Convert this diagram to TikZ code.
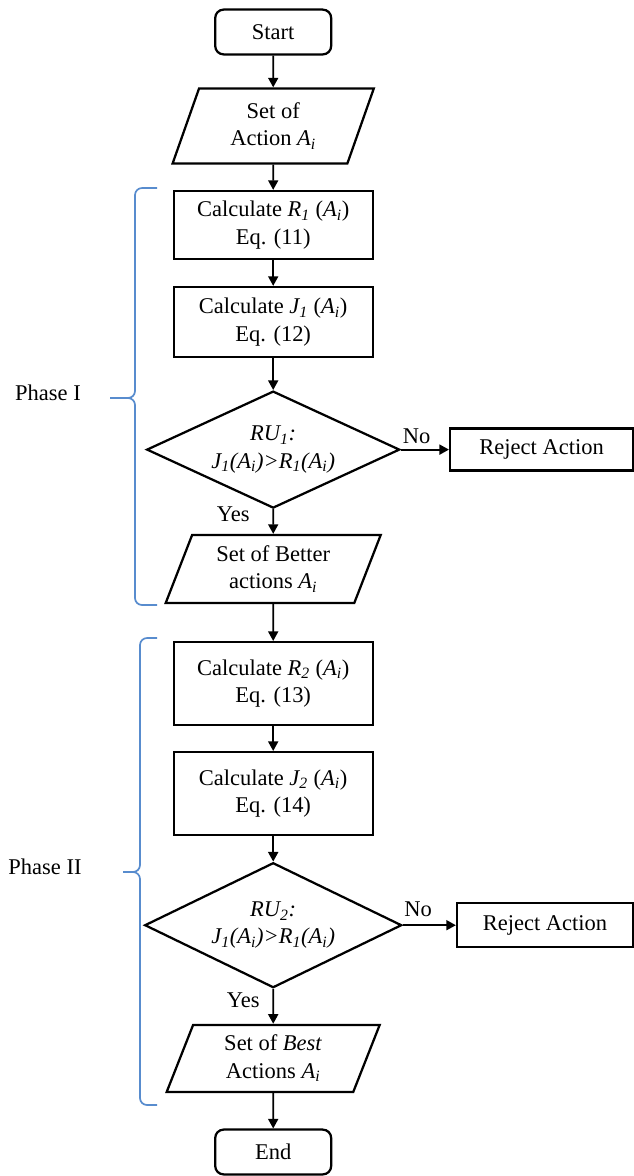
\documentclass[tikz,border=0pt]{standalone}
\usepackage{fontspec}
\setmainfont{Liberation Serif}
\usetikzlibrary{shapes.geometric,arrows.meta,positioning}

\definecolor{phaseblue}{RGB}{88,140,206}
\newcommand{\ital}[2]{\textit{#1\textsubscript{#2}}}

\begin{document}
\begin{tikzpicture}[
    font=\fontsize{16}{19.5}\selectfont,
    box/.style={draw, line width=1.6pt, minimum width=4.975cm, align=center},
    io/.style={trapezium, trapezium left angle=62, trapezium right angle=118,
        trapezium stretches body, draw, line width=1.6pt, align=center, inner sep=1pt},
    decision/.style={diamond, draw, line width=1.6pt, aspect=2.16, inner sep=0pt, align=center},
    terminal/.style={draw, rounded corners=6pt, line width=1.6pt, minimum width=2.9cm, minimum height=1.12cm},
    arrow/.style={line width=1.3pt, -{Triangle[length=2.4mm, width=2.5mm]}},
    phase/.style={draw=phaseblue, line width=1.2pt, rounded corners=5pt}
]
    \useasboundingbox (0,0) rectangle (15.85,-29.4);

    % Phase I
    \node[terminal] (start) at (6.83,-0.8) {Start};
    \node[io, minimum width=5.03cm, minimum height=1.875cm] (actions) at (6.83,-3.15) {Set of\\Action \ital{A}{i}};
    \node[box, minimum height=1.7cm] (calcR1) at (6.83,-5.625) {Calculate \ital{R}{1} (\ital{A}{i})\\Eq. (11)};
    \node[box, minimum height=1.75cm] (calcJ1) at (6.83,-8.05) {Calculate \ital{J}{1} (\ital{A}{i})\\Eq. (12)};
    \node[decision, minimum width=6.325cm, minimum height=2.925cm] (test1) at (6.83,-11.24)
        {\textit{RU\textsubscript{1}:}\\\textit{J\textsubscript{1}(A\textsubscript{i})>R\textsubscript{1}(A\textsubscript{i})}};
    \node[box, minimum width=4.575cm, minimum height=1.05cm] (reject1) at (13.54,-11.24) {Reject Action};
    \node[io, minimum width=5.375cm, minimum height=1.7cm] (better) at (6.83,-14.225) {Set of Better\\actions \ital{A}{i}};

    % Phase II
    \node[box, minimum height=2.075cm] (calcR2) at (6.83,-17.09) {Calculate \ital{R}{2} (\ital{A}{i})\\Eq. (13)};
    \node[box, minimum height=2.075cm] (calcJ2) at (6.83,-19.84) {Calculate \ital{J}{2} (\ital{A}{i})\\Eq. (14)};
    \node[decision, minimum width=6.425cm, minimum height=3.125cm] (test2) at (6.83,-23.13)
        {\textit{RU\textsubscript{2}:}\\\textit{J\textsubscript{1}(A\textsubscript{i})>R\textsubscript{1}(A\textsubscript{i})}};
    \node[box, minimum width=4.4cm, minimum height=1.1cm] (reject2) at (13.625,-23.13) {Reject Action};
    \node[io, minimum width=5.325cm, minimum height=1.675cm] (best) at (6.83,-26.46) {Set of \textit{Best}\\Actions \ital{A}{i}};
    \node[terminal] (stop) at (6.83,-28.8) {End};

    % arrows
    \draw[arrow] (start) -- (actions);
    \draw[arrow] (actions) -- (calcR1);
    \draw[arrow] (calcR1) -- (calcJ1);
    \draw[arrow] (calcJ1) -- (test1);
    \draw[arrow] (test1) -- (reject1) node[pos=0.33, above] (no1) {No};
    \draw[arrow] (test1) -- (better) node[pos=0.2, left=0.45cm] (yes1) {Yes};
    \draw[arrow] (better) -- (calcR2);
    \draw[arrow] (calcR2) -- (calcJ2);
    \draw[arrow] (calcJ2) -- (test2);
    \draw[arrow] (test2) -- (reject2) node[pos=0.29, above=2pt] (no2) {No};
    \draw[arrow] (test2) -- (best) node[pos=0.32, left=0.2cm] (yes2) {Yes};
    \draw[arrow] (best) -- (stop);

    % braces
    \draw[phase] (3.925,-4.7) -- (3.375,-4.7) -- (3.375,-9.95) -- (2.75,-9.95);
    \draw[phase] (3.925,-15.125) -- (3.375,-15.125) -- (3.375,-9.95) -- (2.75,-9.95);
    \node (phase1) at (1.2,-9.83) {Phase I};
    \draw[phase] (3.925,-15.95) -- (3.5,-15.95) -- (3.5,-21.8) -- (3.075,-21.8);
    \draw[phase] (3.925,-27.625) -- (3.5,-27.625) -- (3.5,-21.8) -- (3.075,-21.8);
    \node (phase2) at (1.125,-21.68) {Phase II};
\end{tikzpicture}
\end{document}
